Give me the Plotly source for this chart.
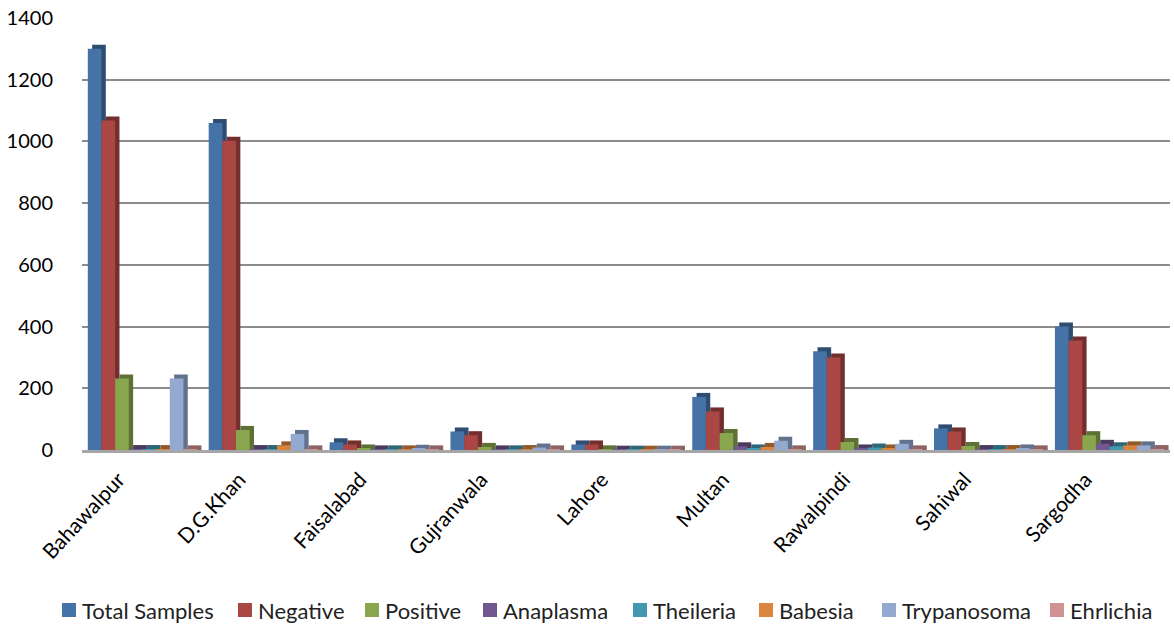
import plotly.graph_objects as go

districts = ["Bahawalpur", "D.G.Khan", "Faisalabad", "Gujranwala", "Lahore",
             "Multan", "Rawalpindi", "Sahiwal", "Sargodha"]

total_samples = [1300, 1060, 25, 60, 18, 172, 320, 70, 400]
negative      = [1068, 1002, 18, 48, 18, 125, 300, 60, 355]
positive      = [232, 65, 5, 10, 2, 55, 26, 13, 48]
anaplasma     = [3, 3, 2, 2, 1, 12, 5, 3, 20]
theileria     = [3, 3, 2, 2, 1, 5, 8, 3, 12]
babesia       = [3, 15, 2, 3, 1, 10, 5, 3, 15]
trypanosoma   = [232, 52, 4, 8, 1, 30, 20, 5, 15]
ehrlichia     = [2, 2, 2, 2, 1, 2, 2, 2, 3]

series_names = ["Total Samples", "Negative", "Positive", "Anaplasma",
                "Theileria", "Babesia", "Trypanosoma", "Ehrlichia"]
series_values = [total_samples, negative, positive, anaplasma,
                 theileria, babesia, trypanosoma, ehrlichia]
series_colors = ["#4572A7", "#AA4643", "#89A54E", "#71588F",
                 "#4198AF", "#DB843D", "#93A9CF", "#D19392"]

y_ticks = [0, 200, 400, 600, 800, 1000, 1200, 1400]

# geometry of the clustered columns (category units) and the depth face
n = len(series_names)
bar_w = 0.113
group_start = -bar_w * n / 2
depth_x = 0.036          # sideways shift of the depth face
depth_y = 13             # how far the depth face rises above the column top


def darker(hex_color, f=0.68):
    r, g, b = (int(hex_color[i:i + 2], 16) for i in (1, 3, 5))
    return "rgb({},{},{})".format(int(r * f), int(g * f), int(b * f))


fig = go.Figure()
for i, (name, vals, color) in enumerate(zip(series_names, series_values, series_colors)):
    off = group_start + i * bar_w
    # depth face, drawn first so the neighbouring column covers it
    fig.add_trace(go.Bar(
        x=districts, y=[v + depth_y for v in vals],
        offset=off + depth_x, width=bar_w,
        marker=dict(color=darker(color), line=dict(width=0)),
        showlegend=False, hoverinfo="skip",
    ))
    fig.add_trace(go.Bar(
        name=name, x=districts, y=vals,
        offset=off, width=bar_w,
        marker=dict(color=color, line=dict(width=0)),
        showlegend=False,
    ))

# bottom legend: small coloured squares followed by the series names
plot_left, plot_bottom = 82, 450
legend_px = [62, 238, 365, 483, 633, 759, 882, 1050]
legend_cy = 610
shapes, annotations = [], []
for px, name, color in zip(legend_px, series_names, series_colors):
    shapes.append(dict(
        type="rect", xref="paper", yref="paper", xanchor=0, yanchor=0,
        xsizemode="pixel", ysizemode="pixel",
        x0=px - plot_left, x1=px - plot_left + 14,
        y0=plot_bottom - legend_cy + 7, y1=plot_bottom - legend_cy - 7,
        fillcolor=color, line=dict(width=0),
    ))
    annotations.append(dict(
        text=name, xref="paper", yref="paper", x=0, y=0,
        xanchor="left", yanchor="middle", showarrow=False,
        xshift=px - plot_left + 18, yshift=plot_bottom - legend_cy,
        font=dict(size=22, color="#222222"),
    ))

fig.update_layout(
    width=1174, height=626,
    margin=dict(l=plot_left, r=4, t=18, b=626 - plot_bottom, autoexpand=False),
    paper_bgcolor="white", plot_bgcolor="white",
    barmode="overlay",
    font=dict(family="Lato, Open Sans, sans-serif", color="#000000"),
    xaxis=dict(
        tickangle=-47, tickfont=dict(size=21),
        showgrid=False, showline=True, linecolor="#a6a6a6", linewidth=3,
        ticks="", automargin=False,
        ticklabelshift=-24, ticklabelstandoff=6,
    ),
    yaxis=dict(
        range=[0, 1400], tickvals=y_ticks, tickfont=dict(size=20),
        showgrid=True, gridcolor="#8c8c8c", gridwidth=2,
        zeroline=False, showline=False, ticks="", ticklabelstandoff=28,
        automargin=False,
    ),
    showlegend=False,
    shapes=shapes,
    annotations=annotations,
)

fig.write_html("out.html")
